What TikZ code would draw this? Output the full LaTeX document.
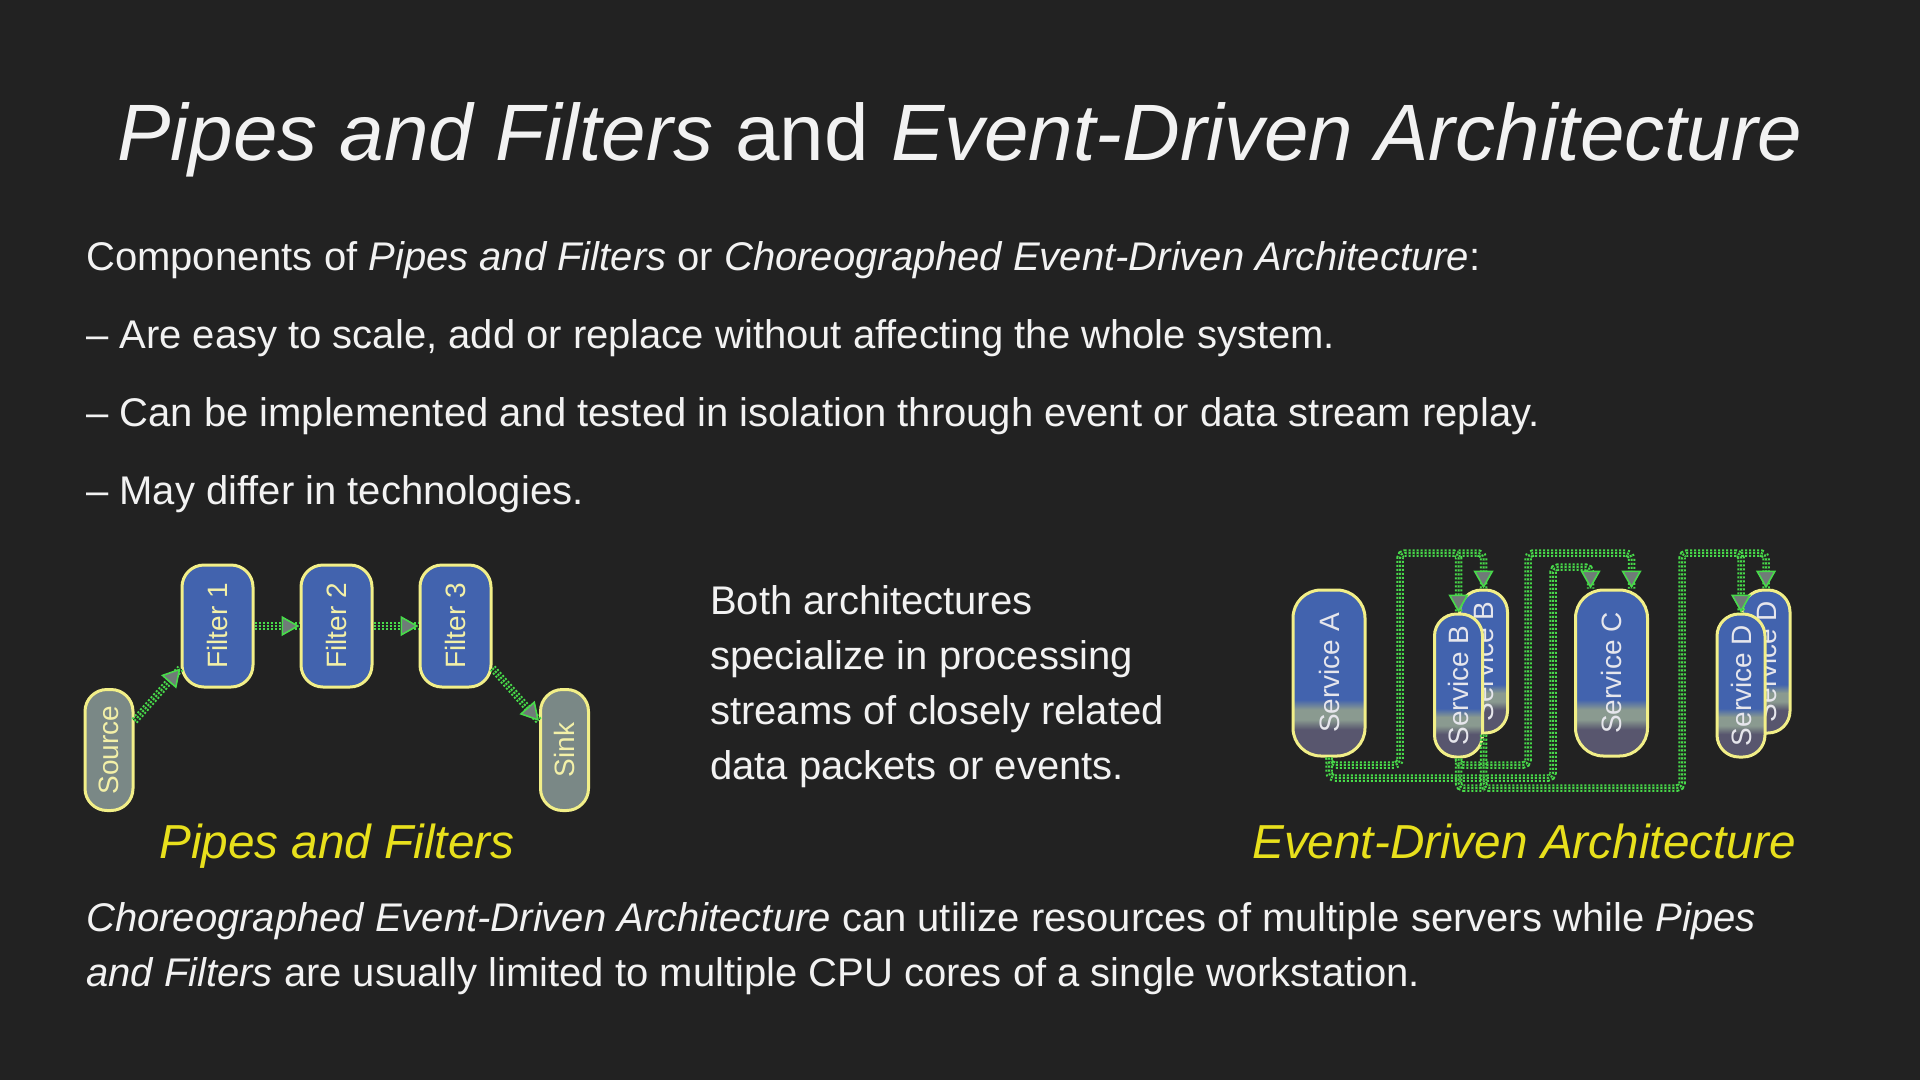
\documentclass[tikz,border=0pt]{standalone}
\usepackage{fontspec}
\setmainfont{Liberation Sans}
\usepackage{graphicx}
\usetikzlibrary{arrows.meta,positioning,calc}

\definecolor{bgdark}{HTML}{222222}
\definecolor{inkwhite}{HTML}{F2F2F2}
\definecolor{capyellow}{HTML}{E8E01C}
\definecolor{boxedge}{HTML}{F2EF88}
\definecolor{boxtext}{HTML}{F3F0A8}
\definecolor{filtblue}{HTML}{4263AE}
\definecolor{endgray}{HTML}{7A8886}
\definecolor{svclow}{HTML}{58566E}
\definecolor{svcmid}{HTML}{8A9A90}
\definecolor{svctext}{HTML}{E6E6EC}
\definecolor{pipegreen}{HTML}{48DA4A}
\definecolor{tipgray}{HTML}{6F7B78}

\pgfdeclareverticalshading{svcshade}{100bp}{color(0bp)=(svclow); color(33bp)=(svclow); color(36bp)=(svcmid); color(39bp)=(svcmid); color(42bp)=(filtblue); color(100bp)=(filtblue)}

\begin{document}
\begin{tikzpicture}[
  x=1pt, y=-1pt,
  txt/.style={inner sep=0pt,anchor=base west,text=inkwhite,font=\fontsize{40}{55}\selectfont},
  lbl/.style={inner sep=0pt,anchor=base west,text=capyellow,font=\fontsize{47.7}{58}\selectfont\itshape},
  pill/.style={draw=boxedge,line width=3pt,inner sep=0pt,rounded corners=22pt,font=\fontsize{28}{34}\selectfont},
  filtbox/.style={pill,fill=filtblue,text=boxtext,minimum width=71pt,minimum height=122pt},
  endbox/.style={pill,fill=endgray,text=boxtext,minimum width=48pt,minimum height=121pt},
  svcbox/.style={pill,shade,shading=svcshade,text=svctext,minimum width=48pt,minimum height=143pt},
  bigsvc/.style={svcbox,minimum width=72pt,minimum height=166pt,rounded corners=28pt},
  pipe/.style={draw=pipegreen,line width=2pt,dash pattern=on 2pt off 2pt,rounded corners=5pt,
    preaction={draw=pipegreen,-,line width=2pt,dash pattern=on 2pt off 2pt,double=bgdark,double distance=3.5pt},
    -{Triangle[length=18pt,width=20pt,fill=tipgray,line width=1.6pt]}},
  node distance=45pt,
]
  \fill[bgdark] (0,0) rectangle (1920,1080);
  \useasboundingbox (0,0) rectangle (1920,1080);

  \node[inner sep=0pt,anchor=base,text=inkwhite,font=\fontsize{80}{96}\selectfont] (title) at (960,160)
    {\textit{Pipes and Filters} and \textit{Event-Driven Architecture}};

  \node[txt] (l1) at (86,270) {Components of \textit{Pipes and Filters} or \textit{Choreographed Event-Driven Architecture}:};
  \node[txt] (l2) at ($(l1.base west)+(0,78)$) {– Are easy to scale, add or replace without affecting the whole system.};
  \node[txt] (l3) at ($(l2.base west)+(0,78)$) {– Can be implemented and tested in isolation through event or data stream replay.};
  \node[txt] (l4) at ($(l3.base west)+(0,78)$) {– May differ in technologies.};

  % pipes and filters
  \node[endbox] (src) at (109,750) {\rotatebox{90}{Source}};
  \node[filtbox] (f1) at (217.5,626) {\rotatebox{90}{Filter 1}};
  \node[filtbox,right=of f1] (f2) {\rotatebox{90}{Filter 2}};
  \node[filtbox,right=of f2] (f3) {\rotatebox{90}{Filter 3}};
  \node[endbox] (snk) at (564.5,750) {\rotatebox{90}{Sink}};
  \draw[pipe] (src) -- (f1);
  \draw[pipe] (f1) -- (f2);
  \draw[pipe] (f2) -- (f3);
  \draw[pipe] (f3) -- (snk);
  \node[lbl] (pflab) at (159,858) {Pipes and Filters};

  % last line sits on the given base
  \node[txt,align=left] (both) at (710,779) {Both architectures\\specialize in processing\\streams of closely related\\data packets or events.};

  % event-driven
  \node[bigsvc] (sa) at (1329,673) {\rotatebox{90}{Service A}};
  \node[svcbox] (sbb) at (1483.5,661.5) {\rotatebox{90}{Service B}};
  \node[svcbox] (sbf) at (1458.5,685.5) {\rotatebox{90}{Service B}};
  \node[bigsvc] (sc) at (1611.5,673) {\rotatebox{90}{Service C}};
  \node[svcbox] (sdb) at (1766,661.5) {\rotatebox{90}{Service D}};
  \node[svcbox] (sdf) at (1741,685.5) {\rotatebox{90}{Service D}};
  \coordinate (bus) at (0,553);
  \coordinate (busc) at (0,567);
  \coordinate (rail) at (0,765);
  \coordinate (raild) at (0,788);
  \coordinate (bjoin) at (sbf.north |- bus);
  \coordinate (djoin) at (sdf.north |- bus);
  \coordinate (cin1) at ([xshift=-21pt]sc.north);
  \coordinate (cin2) at ([xshift=20pt]sc.north);
  \draw[pipe] (sa.south) |- (1400,765) |- (bjoin) -- (sbf.north);
  \draw[pipe] (bjoin) -| (sbb.north);
  \draw[pipe] (sa.south) |- (1553,778) |- (cin1 |- busc) -- (cin1);
  \draw[pipe] (sbf.south) |- (1528,765) |- (cin2 |- bus) -- (cin2);
  \draw[pipe,-] (sbb.south) -- (sbb.south |- rail);
  \draw[pipe] (sbb.south) |- (1682,788) |- (djoin) -- (sdf.north);
  \draw[pipe,-] (sbf.south) |- (sbb.south |- raild);
  \draw[pipe] (djoin) -| (sdb.north);
  \node[lbl] (edlab) at (1252,858) {Event-Driven Architecture};

  \node[txt] (n1) at (86,931) {\textit{Choreographed Event-Driven Architecture} can utilize resources of multiple servers while \textit{Pipes}};
  \node[txt] (n2) at ($(n1.base west)+(0,55)$) {\textit{and Filters} are usually limited to multiple CPU cores of a single workstation.};
\end{tikzpicture}
\end{document}
